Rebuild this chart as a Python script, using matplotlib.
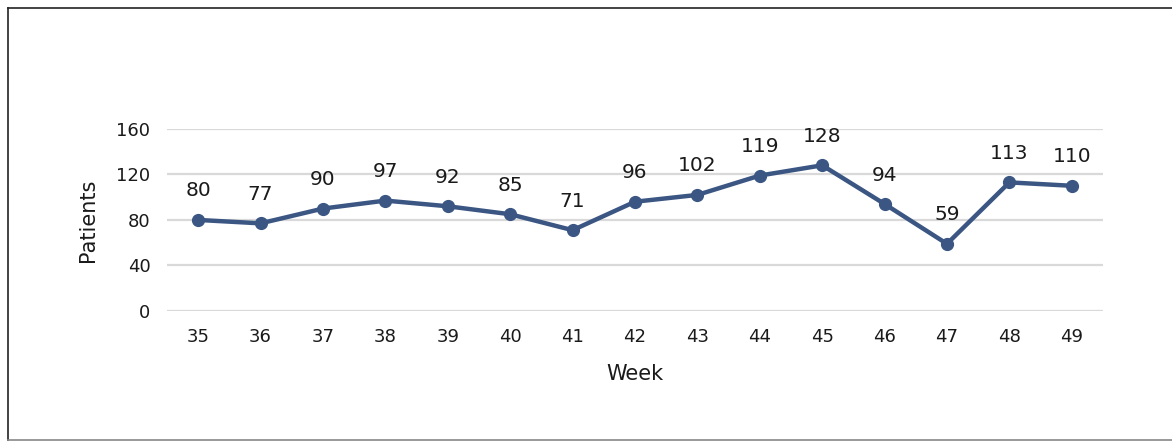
import matplotlib.pyplot as plt
from matplotlib.lines import Line2D

# weekly patient counts
weeks = ["35", "36", "37", "38", "39", "40", "41", "42", "43", "44", "45", "46", "47", "48", "49"]
patients = [80, 77, 90, 97, 92, 85, 71, 96, 102, 119, 128, 94, 59, 113, 110]
yticks = [0, 40, 80, 120, 160]

plt.rcParams["font.family"] = ["DejaVu Sans"]

fig = plt.figure(figsize=(11.72, 4.42), dpi=100)
ax = fig.add_axes([0.1425, 0.2964, 0.7986, 0.412])

x = list(range(len(weeks)))
ax.plot(x, patients, color="#3B5683", lw=3.2, marker="o", ms=8.5, zorder=3)
for xi, v in zip(x, patients):
    ax.annotate(str(v), (xi, v), xytext=(0, 14), textcoords="offset points",
                ha="center", va="bottom", fontsize=14.5, color="#1a1a1a")

ax.set_xlim(-0.5, len(weeks) - 0.5)
ax.set_ylim(0, 160)
ax.set_yticks(yticks)
ax.set_xticks(x)
ax.set_xticklabels(weeks)
ax.tick_params(length=0, labelsize=13, colors="#1a1a1a", pad=12)
ax.tick_params(axis="x", pad=12)
ax.grid(axis="y", color="#d9d9d9", lw=1.6)
ax.set_axisbelow(True)
for s in ax.spines.values():
    s.set_visible(False)
ax.set_xlabel("Week", fontsize=15, color="#1a1a1a", labelpad=13)
ax.set_ylabel("Patients", fontsize=15, color="#1a1a1a", labelpad=13)

# outer frame
fig.add_artist(Line2D([8 / 1172, 8 / 1172], [0.005, 1 - 8 / 442], transform=fig.transFigure, color="#222222", lw=1.2))
fig.add_artist(Line2D([8 / 1172, 1.0], [1 - 8 / 442, 1 - 8 / 442], transform=fig.transFigure, color="#222222", lw=1.2))
fig.add_artist(Line2D([8 / 1172, 1.0], [0.005, 0.005], transform=fig.transFigure, color="#888888", lw=1.2))

fig.savefig("out.png", dpi=100)
